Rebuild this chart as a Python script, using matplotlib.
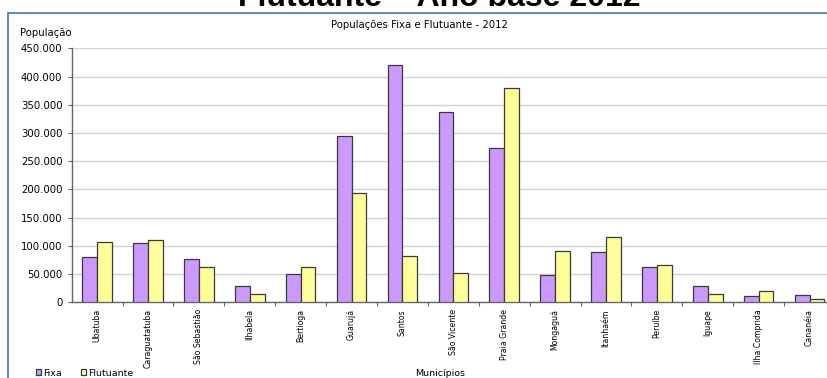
import matplotlib
matplotlib.use("Agg")
import matplotlib.pyplot as plt
from matplotlib.patches import Rectangle
from matplotlib.ticker import FuncFormatter, FixedLocator
import numpy as np

plt.rcParams['font.family'] = ['DejaVu Sans']

municipios = ["Ubatuba", "Caraguatatuba", "São Sebastião", "Ilhabela", "Bertioga",
              "Guarujá", "Santos", "São Vicente", "Praia Grande", "Mongaguá",
              "Itanhaém", "Peruíbe", "Iguape", "Ilha Comprida", "Cananéia"]
fixa = [81000, 104500, 76500, 29000, 50000, 295000, 420000, 336500, 273000,
        48000, 89000, 62000, 29000, 10500, 13000]
flutuante = [107000, 110000, 63000, 14000, 63000, 194500, 82500, 51500, 379000,
             90500, 115000, 65500, 14000, 20500, 5500]
y_ticks = [0, 50000, 100000, 150000, 200000, 250000, 300000, 350000, 400000, 450000]

W, H = 827, 378
fig = plt.figure(figsize=(W / 100, H / 100), dpi=100)

# frame of the chart block (extends past the right and bottom edges)
fig.patches.append(Rectangle((8 / W, -0.1), 1.2, 1 - 13 / H + 0.1,
                             transform=fig.transFigure, fill=False,
                             edgecolor='#3D7AAB', linewidth=1.2))

# heading of the surrounding page
fig.text(439 / W, 1 - 6 / H, "Flutuante \u2013 Ano base 2012",
         ha='center', va='baseline', fontsize=23, fontweight='bold',
         family='Liberation Sans')

left, right = 71.7, 835.0
bottom, top = 302.3, 48.3
ax = fig.add_axes([left / W, 1 - bottom / H, (right - left) / W, (bottom - top) / H])

x = np.arange(len(municipios))
w = 0.29
b1 = ax.bar(x - w / 2, fixa, width=w, color='#CC99FF', edgecolor='#3a3a3a',
            linewidth=0.9, label='Fixa', zorder=3)
b2 = ax.bar(x + w / 2, flutuante, width=w, color='#FFFF99', edgecolor='#3a3a3a',
            linewidth=0.9, label='Flutuante', zorder=3)

ax.set_xlim(-0.5, len(municipios) - 0.5)
ax.set_ylim(0, 450000)
ax.set_yticks(y_ticks)
ax.yaxis.set_major_formatter(FuncFormatter(lambda v, p: f"{int(v):,}".replace(',', '.')))
ax.grid(axis='y', color='#D4D4D4', linewidth=1.0, zorder=0)
ax.set_axisbelow(True)

ax.set_xticks(x)
ax.set_xticklabels(municipios, rotation=90, fontsize=5.6, va='top')
ax.xaxis.set_minor_locator(FixedLocator(np.arange(len(municipios)) + 0.5))
ax.tick_params(axis='x', which='major', length=0, pad=5)
ax.tick_params(axis='x', which='minor', length=3, width=0.8, color='#666666', direction='out')
ax.tick_params(axis='y', length=3, width=0.8, color='#666666', labelsize=7.3, pad=3.6)

for s in ['top', 'right']:
    ax.spines[s].set_visible(False)
for s in ['left', 'bottom']:
    ax.spines[s].set_color('#666666')
    ax.spines[s].set_linewidth(1.0)

fig.text(419 / W, 1 - 25 / H, "Populações Fixa e Flutuante - 2012",
         ha='center', va='center', fontsize=7.3)
fig.text(20 / W, 1 - 33 / H, "População", ha='left', va='center', fontsize=7.3)
fig.text(440 / W, 1 - 373 / H, "Municípios", ha='center', va='center', fontsize=6.8)

fig.legend(handles=[b1, b2], loc='center left',
           bbox_to_anchor=(36 / W, 1 - 373 / H), ncol=2, frameon=False,
           fontsize=6.8, handlelength=0.55, handleheight=0.55,
           handletextpad=0.2, columnspacing=2.0, borderpad=0, borderaxespad=0)

fig.savefig("out.png", dpi=100)
